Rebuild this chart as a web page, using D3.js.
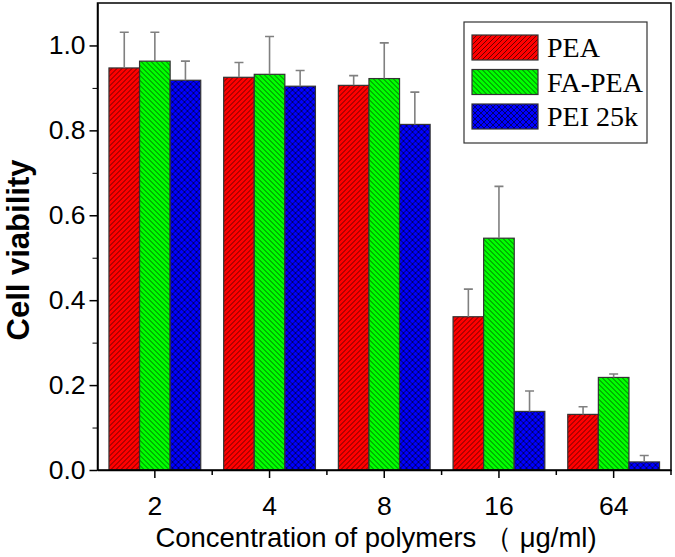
<!DOCTYPE html>
<html>
<head>
<meta charset="utf-8">
<script src="https://cdn.jsdelivr.net/npm/d3@7"></script>
<style>
  body { margin: 0; background: #fff; }
  svg { display: block; }
</style>
</head>
<body>
<div id="chart-container"></div>
<script>
// data
const categories = ['2', '4', '8', '16', '64'];
const seriesNames = ['PEA', 'FA-PEA', 'PEI 25k'];
const peaValues = [0.947, 0.925, 0.906, 0.361, 0.131];
const peaErrors = [0.084, 0.035, 0.023, 0.065, 0.018];
const faPeaValues = [0.963, 0.932, 0.922, 0.546, 0.218];
const faPeaErrors = [0.068, 0.089, 0.084, 0.122, 0.008];
const peiValues = [0.918, 0.904, 0.814, 0.138, 0.019];
const peiErrors = [0.045, 0.037, 0.076, 0.048, 0.015];
const yTicks = [0, 0.2, 0.4, 0.6, 0.8, 1.0];
const yMinorTicks = [0.1, 0.3, 0.5, 0.7, 0.9];

const width = 675, height = 557;
const margin = { top: 3, right: 4, bottom: 87, left: 97.5 };
const plotW = width - margin.left - margin.right;
const plotH = height - margin.top - margin.bottom;

const svg = d3.select('#chart-container')
  .append('svg')
  .attr('width', width)
  .attr('height', height);

// hatch patterns
const defs = svg.append('defs');
function hatch(id, color, d, size) {
  const p = defs.append('pattern')
    .attr('id', id)
    .attr('patternUnits', 'userSpaceOnUse')
    .attr('width', size).attr('height', size);
  p.append('rect').attr('width', size).attr('height', size).attr('fill', color);
  p.append('path').attr('d', d)
    .attr('stroke', '#000').attr('stroke-opacity', 0.65).attr('stroke-width', 0.9);
}
hatch('h-red', '#ff0000', 'M0,5 L5,0 M-1,1 L1,-1 M4,6 L6,4', 5);
hatch('h-green', '#00ff00', 'M0,0 L5,5 M-1,4 L1,6 M4,-1 L6,1', 5);
hatch('h-blue', '#0000ff', 'M0,0 L6,6 M-1,5 L1,7 M5,-1 L7,1 M0,6 L6,0 M-1,1 L1,-1 M5,7 L7,5', 6);

const series = [
  { name: seriesNames[0], values: peaValues, errors: peaErrors, fill: 'url(#h-red)' },
  { name: seriesNames[1], values: faPeaValues, errors: faPeaErrors, fill: 'url(#h-green)' },
  { name: seriesNames[2], values: peiValues, errors: peiErrors, fill: 'url(#h-blue)' }
];

const x = d3.scaleBand().domain(categories).range([0, plotW])
  .paddingInner(0.2).paddingOuter(0.1);
const xs = d3.scaleBand().domain(seriesNames).range([0, x.bandwidth()]);
const y = d3.scaleLinear().domain([0, 1.1]).range([plotH, 0]);

const g = svg.append('g')
  .attr('transform', 'translate(' + margin.left + ',' + margin.top + ')');

// bars
series.forEach(s => {
  const sg = g.append('g');
  sg.selectAll('rect')
    .data(categories)
    .enter().append('rect')
    .attr('x', c => x(c) + xs(s.name))
    .attr('y', (c, i) => y(s.values[i]))
    .attr('width', xs.bandwidth())
    .attr('height', (c, i) => plotH - y(s.values[i]))
    .attr('fill', s.fill)
    .attr('stroke', '#333')
    .attr('stroke-width', 1.2);

  // error bars (upper only)
  sg.selectAll('path.err')
    .data(categories)
    .enter().append('path')
    .attr('class', 'err')
    .attr('d', (c, i) => {
      const cx = x(c) + xs(s.name) + xs.bandwidth() / 2;
      const y0 = y(s.values[i]);
      const y1 = y(s.values[i] + s.errors[i]);
      return 'M' + cx + ',' + y0 + 'V' + y1 + 'M' + (cx - 4.5) + ',' + y1 + 'H' + (cx + 4.5);
    })
    .attr('fill', 'none')
    .attr('stroke', '#808080')
    .attr('stroke-width', 1.6);
});

// axes
const yAxis = g.append('g')
  .call(d3.axisLeft(y).tickValues(yTicks).tickFormat(d3.format('.1f')).tickSize(8).tickSizeOuter(0));
g.append('g')
  .call(d3.axisLeft(y).tickValues(yMinorTicks).tickFormat('').tickSize(5).tickSizeOuter(0))
  .select('.domain').remove();

const xAxis = g.append('g')
  .attr('transform', 'translate(0,' + plotH + ')')
  .call(d3.axisBottom(x).tickSize(8).tickSizeOuter(0));
const minorX = categories.map(c => x(c) + x.bandwidth() / 2 + x.step() / 2);
g.append('g').selectAll('line')
  .data(minorX)
  .enter().append('line')
  .attr('x1', d => d).attr('x2', d => d)
  .attr('y1', plotH).attr('y2', plotH + 5)
  .attr('stroke', '#000').attr('stroke-width', 1.5);

[yAxis, xAxis].forEach(a => {
  a.selectAll('.domain, line').attr('stroke', '#000').attr('stroke-width', 1.5);
  a.selectAll('text')
    .attr('font-family', '"Liberation Sans", Arial, sans-serif')
    .attr('font-size', 26.5)
    .attr('fill', '#000');
});
yAxis.selectAll('text').attr('x', -12);
xAxis.selectAll('text').attr('y', 26);

// frame
g.append('rect')
  .attr('width', plotW).attr('height', plotH)
  .attr('fill', 'none').attr('stroke', '#000').attr('stroke-width', 1.5);

// axis titles
svg.append('text')
  .attr('transform', 'translate(29,250) rotate(-90)')
  .attr('text-anchor', 'middle')
  .attr('font-family', '"Liberation Sans", Arial, sans-serif')
  .attr('font-weight', 'bold')
  .attr('font-size', 31)
  .text('Cell viability');

svg.append('text')
  .attr('x', 376).attr('y', 547)
  .attr('text-anchor', 'middle')
  .attr('font-family', '"Liberation Sans", Arial, sans-serif')
  .attr('font-size', 27.5)
  .text('Concentration of polymers （ μg/ml)');

// legend
const legend = svg.append('g').attr('transform', 'translate(464,22)');
legend.append('rect')
  .attr('width', 183).attr('height', 121)
  .attr('fill', '#fff').attr('stroke', '#333').attr('stroke-width', 1.2);
series.forEach((s, i) => {
  const row = legend.append('g').attr('transform', 'translate(8,' + (13 + i * 34.5) + ')');
  row.append('rect')
    .attr('width', 66).attr('height', 25)
    .attr('fill', s.fill).attr('stroke', '#333').attr('stroke-width', 1.2);
  row.append('text')
    .attr('x', 75).attr('y', 22)
    .attr('font-family', '"Liberation Serif", "Times New Roman", serif')
    .attr('font-size', 28)
    .text(s.name);
});
</script>
</body>
</html>
